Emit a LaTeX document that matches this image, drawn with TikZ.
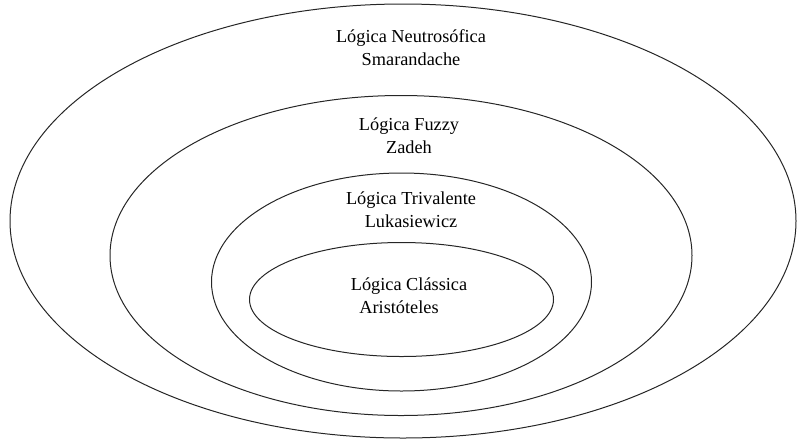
\documentclass[tikz,border=0pt]{standalone}
\usepackage{fontspec}
\setmainfont{Liberation Serif}
\usetikzlibrary{positioning}

\begin{document}
\begin{tikzpicture}
[x=1pt,y=-1pt,ring/.style={draw=black!85,line width=1pt},logic/.style={align=center,inner sep=0pt,font=\rmfamily\fontsize{18.3}{23}\selectfont},]
\useasboundingbox (0,0) rectangle (797,440);

%Neutrosofica
\coordinate (N) at (403,221);
\draw[ring] (N) ellipse (393 and 217);
\node (n) at (411,48)[logic] {Lógica Neutrosófica\\Smarandache};

%Fuzzy
\coordinate (F) at (401,255.5);
\draw[ring] (F) ellipse (291 and 160);
\node (f) at (409,136)[logic] {Lógica Fuzzy\\Zadeh};

%Trivalente
\coordinate (T) at (401.5,282);
\draw[ring] (T) ellipse (190 and 109);
\node (t) at (411,210)[logic] {Lógica Trivalente\\Lukasiewicz};

%Classica
\coordinate (C) at (401.5,299.5);
\draw[ring] (C) ellipse (152 and 57);
\node (c) at (409,296)[logic] {Lógica Clássica\\Aristóteles\hspace*{20pt}};
\end{tikzpicture}
\end{document}
